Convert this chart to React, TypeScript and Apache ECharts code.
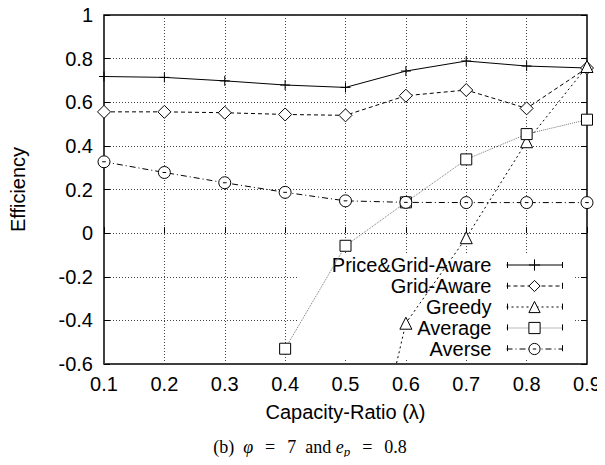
import React, { useEffect, useRef } from "react";
import * as echarts from "echarts";

const categories = ["0.1", "0.2", "0.3", "0.4", "0.5", "0.6", "0.7", "0.8", "0.9"];
const priceGridAware = [0.718, 0.714, 0.698, 0.679, 0.668, 0.743, 0.789, 0.766, 0.757];
const gridAware = [0.556, 0.556, 0.552, 0.544, 0.54, 0.63, 0.656, 0.572, 0.757];
const greedy = [null, null, null, null, -1.6, -0.413, -0.021, 0.419, 0.764];
const average = [null, null, null, -0.53, -0.058, 0.141, 0.338, 0.454, 0.52];
const averse = [0.327, 0.278, 0.231, 0.187, 0.148, 0.141, 0.14, 0.14, 0.14];
const legendNames = ["Price&Grid-Aware", "Grid-Aware", "Greedy", "Average", "Averse"];

const FONT = "Liberation Sans";

const plusPath = "path://M0,5L10,5M5,0L5,10";
const circlePath = "path://M0,5A5,5 0 1,1 10,5A5,5 0 1,1 0,5ZM3.5,5L6.5,5";

export default function App() {
  const ref = useRef<HTMLDivElement>(null);
  useEffect(() => {
    if (!ref.current) return;
    const chart = echarts.init(ref.current, null, { renderer: "svg" });
    const mk = (name: string, data: any[], symbol: string, size: number, lineType: any, lineColor = "#000") => ({
      name,
      type: "line",
      data,
      symbol,
      symbolSize: size,
      showAllSymbol: true,
      clip: true,
      z: 2,
      lineStyle: { color: lineColor, width: 1, type: lineType },
      itemStyle: { color: "#fff", borderColor: "#000", borderWidth: 1 },
    });
    const rowStep = 20.8;
    const caps: any[] = [];
    legendNames.forEach((_, i) => {
      const y = 265 + i * rowStep;
      caps.push({ type: "line", z: 3, shape: { x1: 507.5, y1: y - 3, x2: 507.5, y2: y + 3 }, style: { stroke: "#000", lineWidth: 1 } });
      caps.push({ type: "line", z: 3, shape: { x1: 562.5, y1: y - 3, x2: 562.5, y2: y + 3 }, style: { stroke: "#000", lineWidth: 1 } });
    });
    const serif = "Liberation Serif";
    chart.setOption({
      animation: false,
      backgroundColor: "#fff",
      textStyle: { fontFamily: FONT },
      grid: {
        left: 104,
        right: 18,
        top: 15,
        bottom: 101,
        show: true,
        borderColor: "#000",
        borderWidth: 1.5,
        backgroundColor: "transparent",
      },
      graphic: [
        {
          type: "text",
          x: 310,
          y: 447,
          z: 5,
          style: {
            text: "(b)  {i|φ}{eq|=}7  and {i|e}{s|p}{eq|=}0.8",
            align: "center",
            verticalAlign: "middle",
            fontFamily: serif,
            fontSize: 18,
            fill: "#000",
            rich: {
              i: { fontFamily: serif, fontStyle: "italic", fontSize: 18 },
              eq: { fontFamily: serif, fontSize: 18, padding: [0, 12, 0, 12] },
              s: { fontFamily: serif, fontStyle: "italic", fontSize: 13, padding: [9, 0, 0, 0] },
            },
          },
        },
        ...caps,
      ],
      legend: {
        orient: "vertical",
        align: "right",
        right: 30,
        top: 253,
        z: 1,
        backgroundColor: "#fff",
        padding: [2, 12, 0, 33],
        itemWidth: 56,
        itemHeight: 14,
        itemGap: 1,
        lineStyle: { width: 1 },
        itemStyle: { borderWidth: 1 },
        textStyle: { fontFamily: FONT, fontSize: 20, color: "#000", padding: [0, 10, 0, 0] },
        data: legendNames,
      },
      xAxis: {
        type: "category",
        data: categories,
        boundaryGap: false,
        name: "Capacity-Ratio (λ)",
        nameLocation: "middle",
        nameGap: 38,
        nameTextStyle: { fontFamily: FONT, fontSize: 20, color: "#000" },
        axisLine: { show: false },
        axisTick: { show: true, inside: true, length: 6, lineStyle: { color: "#000" } },
        axisLabel: { fontFamily: FONT, fontSize: 20, color: "#000", margin: 10 },
        splitLine: { show: true, lineStyle: { color: "#444", width: 1, type: [1, 2] } },
      },
      yAxis: [
        {
          type: "value",
          min: -0.6,
          max: 1,
          interval: 0.2,
          name: "Efficiency",
          nameLocation: "middle",
          nameGap: 76,
          nameTextStyle: { fontFamily: FONT, fontSize: 20, color: "#000" },
          axisLine: { show: false },
          axisTick: { show: true, inside: true, length: 6, lineStyle: { color: "#000" } },
          axisLabel: { fontFamily: FONT, fontSize: 20, color: "#000", margin: 11 },
          splitLine: { show: true, lineStyle: { color: "#444", width: 1, type: [1, 2] } },
        },
        {
          type: "value",
          position: "right",
          min: -0.6,
          max: 1,
          interval: 0.2,
          axisLine: { show: false },
          axisTick: { show: true, inside: true, length: 6, lineStyle: { color: "#000" } },
          axisLabel: { show: false },
          splitLine: { show: false },
        },
      ],
      series: [
        mk("Price&Grid-Aware", priceGridAware, plusPath, 10, "solid"),
        mk("Grid-Aware", gridAware, "diamond", 13, [4, 3]),
        mk("Greedy", greedy, "triangle", 12, [2, 3]),
        mk("Average", average, "rect", 11, [1, 1], "#777"),
        mk("Averse", averse, circlePath, 12, [6, 3, 1, 3]),
      ],
    });
    return () => chart.dispose();
  }, []);
  return <div ref={ref} style={{ width: 605, height: 465, margin: -8 }} />;
}
